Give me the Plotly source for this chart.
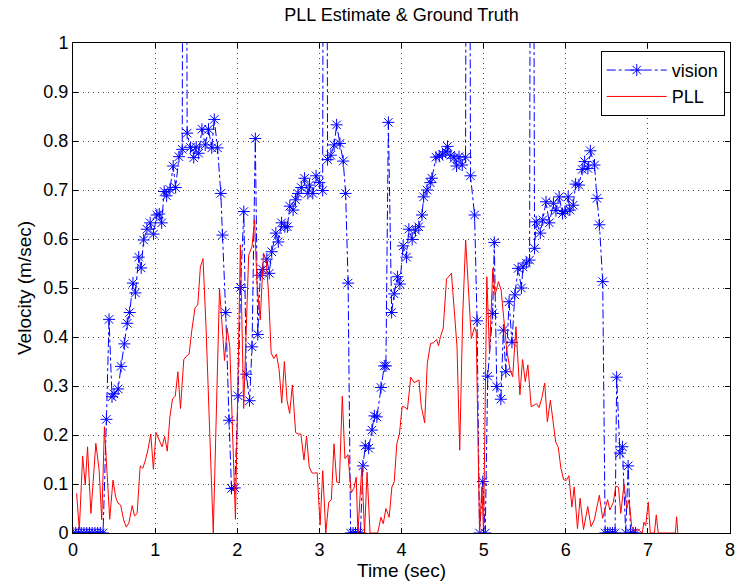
import plotly.graph_objects as go

# ---- data ----
vision_t = [0.0, 0.033, 0.067, 0.1, 0.133, 0.167, 0.2, 0.233, 0.267, 0.3, 0.333, 0.366,
            0.407, 0.439, 0.475, 0.50, 0.55, 0.585, 0.625, 0.66, 0.69, 0.73, 0.76, 0.80, 0.83,
            0.86, 0.90, 0.94, 0.98, 1.02, 1.05, 1.08, 1.11, 1.14, 1.18, 1.22, 1.25, 1.29, 1.33,
            1.355, 1.39, 1.43, 1.47, 1.50, 1.53, 1.57, 1.61, 1.65, 1.69, 1.72, 1.76, 1.80, 1.82,
            1.86, 1.90, 1.93, 1.97, 2.01, 2.04, 2.08, 2.11, 2.15, 2.18, 2.22, 2.25, 2.28, 2.31,
            2.36, 2.39, 2.42, 2.47, 2.50, 2.54, 2.58, 2.61, 2.64, 2.68, 2.71, 2.74, 2.78, 2.82,
            2.86, 2.88, 2.92, 2.96, 3.00, 3.04, 3.065, 3.10, 3.14, 3.18, 3.21, 3.25, 3.29, 3.32,
            3.35, 3.38, 3.41, 3.44, 3.47, 3.50, 3.53, 3.56, 3.60, 3.64, 3.67, 3.70, 3.75, 3.79,
            3.81, 3.84, 3.88, 3.91, 3.95, 3.98, 4.02, 4.06, 4.09, 4.13, 4.17, 4.21, 4.25, 4.27,
            4.31, 4.35, 4.37, 4.42, 4.46, 4.50, 4.54, 4.56, 4.60, 4.64, 4.67, 4.70, 4.74, 4.78,
            4.81, 4.84, 4.89, 4.92, 4.95, 4.99, 5.02, 5.05, 5.11, 5.13, 5.16, 5.21, 5.24, 5.27,
            5.31, 5.345, 5.38, 5.42, 5.46, 5.48, 5.52, 5.56, 5.585, 5.62, 5.64, 5.69, 5.72, 5.76,
            5.80, 5.85, 5.88, 5.92, 5.96, 5.99, 6.03, 6.05, 6.09, 6.12, 6.16, 6.20, 6.23, 6.27,
            6.30, 6.35, 6.38, 6.41, 6.45, 6.48, 6.51, 6.54, 6.57, 6.60, 6.62, 6.66, 6.69, 6.73,
            6.76, 6.79, 6.82, 6.85]
vision_v = [0, 0, 0, 0, 0, 0, 0, 0, 0, 0, 0, 0,
            0.232, 0.436, 0.278, 0.284, 0.294, 0.34, 0.386, 0.428, 0.45, 0.51, 0.49, 0.563, 0.541,
            0.598, 0.62, 0.633, 0.61, 0.649, 0.651, 0.633, 0.697, 0.688, 0.701, 0.749, 0.705, 0.768, 0.783,
            3.0, 0.816, 0.787, 0.766, 0.788, 0.775, 0.824, 0.792, 0.824, 0.786, 0.844, 0.786, 0.693, 0.608,
            0.45, 0.23, 0.091, 0.092, 0.28, 0.501, 0.656, 0.324, 0.27, 0.38, 0.805, 0.405, 0.526, 0.538,
            0.559, 0.53, 0.574, 0.612, 0.594, 0.633, 0.625, 0.625, 0.667, 0.659, 0.68, 0.693, 0.705, 0.724,
            0.693, 0.71, 0.693, 0.729, 0.715, 0.699, 3.0, 0.762, 0.771, 0.792, 0.833, 0.795, 0.759, 0.693,
            0.51, 0, 0, 0, 0, 0, 0.137, 0.178, 0.173, 0.21, 0.239, 0.237, 0.297, 0.341,
            0.341, 0.838, 0.45, 0.488, 0.523, 0.508, 0.586, 0.563, 0.62, 0.599, 0.618, 0.625, 0.649, 0.686,
            0.70, 0.715, 0.724, 0.767, 0.769, 0.773, 0.778, 0.789, 0.771, 0.765, 0.749, 0.768, 0.751, 0.767,
            3.0, 0.729, 0.649, 0.433, 0, 0.105, 0, 0.32, 0.448, 0.593, 0.299, 0.273, 0.414, 0.329,
            0.472, 0.389, 0.486, 0.54, 0.50, 0.543, 0.551, 0.557, 3.0, 0.581, 0.635, 0.612, 0.639, 0.676,
            0.633, 0.673, 0.658, 0.686, 0.652, 0.656, 0.686, 0.659, 0.669, 0.712, 0.71, 0.742, 0.758, 0.744,
            0.78, 0.751, 0.683, 0.629, 0.513, 0, 0, 0, 0, 0, 0.318, 0.163, 0.176, 0,
            0.137, 0, 0, 0]

pll_t = [0.044, 0.077, 0.117, 0.149, 0.177, 0.218, 0.278, 0.318, 0.35, 0.383, 0.415, 0.447,
         0.487, 0.52, 0.548, 0.58, 0.616, 0.649, 0.681, 0.721, 0.749, 0.781, 0.818, 0.85, 0.882,
         0.914, 0.947, 0.979, 1.011, 1.051, 1.084, 1.116, 1.148, 1.18, 1.212, 1.245, 1.277, 1.309,
         1.349, 1.382, 1.414, 1.446, 1.486, 1.519, 1.551, 1.583, 1.62, 1.708, 1.784, 1.845, 1.877,
         1.909, 1.978, 2.038, 2.078, 2.139, 2.179, 2.211, 2.24, 2.28, 2.32, 2.352, 2.381, 2.413,
         2.445, 2.477, 2.51, 2.542, 2.574, 2.606, 2.638, 2.671, 2.711, 2.743, 2.775, 2.812, 2.844,
         2.876, 2.908, 2.94, 2.973, 3.009, 3.041, 3.078, 3.114, 3.146, 3.178, 3.211, 3.243, 3.279,
         3.311, 3.348, 3.388, 3.42, 3.449, 3.469, 3.517, 3.55, 3.581, 3.617, 3.71, 3.75, 3.778,
         3.81, 3.85, 3.883, 3.911, 3.943, 3.975, 4.008, 4.04, 4.072, 4.113, 4.153, 4.213, 4.241,
         4.282, 4.314, 4.354, 4.387, 4.427, 4.451, 4.475, 4.508, 4.548, 4.608, 4.644, 4.676, 4.709,
         4.745, 4.781, 4.818, 4.85, 4.89, 4.91, 4.951, 4.979, 4.999, 5.039, 5.072, 5.112, 5.14,
         5.18, 5.213, 5.249, 5.281, 5.322, 5.354, 5.394, 5.442, 5.474, 5.507, 5.539, 5.579, 5.615,
         5.643, 5.675, 5.708, 5.744, 5.776, 5.813, 5.845, 5.877, 5.909, 5.941, 5.974, 6.006, 6.038,
         6.075, 6.103, 6.143, 6.175, 6.216, 6.268, 6.308, 6.348, 6.409, 6.449, 6.509, 6.537, 6.578,
         6.61, 6.642, 6.67, 6.71, 6.743, 6.771, 6.803, 6.844, 6.872, 6.932, 6.952, 6.973, 7.005,
         7.029, 7.08, 7.102, 7.126, 7.335, 7.35, 7.365]
pll_v = [0.081, 0.006, 0.157, 0.098, 0.176, 0.04, 0.183, 0.129, 0.027, 0.217, 0.122, 0.028,
         0.108, 0.073, 0.061, 0.057, 0.027, 0.012, 0.021, 0.056, 0.035, 0.04, 0.137, 0.132, 0.149,
         0.171, 0.202, 0.13, 0.205, 0.19, 0.176, 0.197, 0.167, 0.237, 0.274, 0.279, 0.329, 0.254,
         0.354, 0.361, 0.365, 0.413, 0.46, 0.465, 0.543, 0.56, 0.42, 0.0, 0.499, 0.352, 0.418,
         0.38, 0.028, 0.588, 0.254, 0.567, 0.584, 0.639, 0.51, 0.435, 0.571, 0.557, 0.489, 0.367,
         0.356, 0.365, 0.333, 0.265, 0.35, 0.271, 0.244, 0.302, 0.205, 0.202, 0.202, 0.149, 0.198,
         0.135, 0.123, 0.122, 0.123, 0.016, 0.127, 0.0, 0.063, 0.068, 0.182, 0.104, 0.102, 0.279,
         0.152, 0.16, 0.082, 0.091, 0.114, 0.0, 0.135, 0.0, 0.124, 0.0, 0.0, 0.032, 0.019,
         0.05, 0.032, 0.094, 0.104, 0.182, 0.202, 0.258, 0.257, 0.252, 0.318, 0.307, 0.312, 0.258,
         0.225, 0.346, 0.387, 0.388, 0.395, 0.382, 0.401, 0.418, 0.518, 0.53, 0.448, 0.38, 0.169,
         0.442, 0.598, 0.475, 0.397, 0.42, 0.41, 0.0, 0.095, 0.0, 0.523, 0.366, 0.54, 0.486,
         0.513, 0.496, 0.435, 0.374, 0.333, 0.319, 0.421, 0.282, 0.354, 0.309, 0.343, 0.258, 0.261,
         0.264, 0.256, 0.275, 0.306, 0.227, 0.271, 0.231, 0.186, 0.175, 0.132, 0.109, 0.107, 0.117,
         0.053, 0.094, 0.009, 0.071, 0.007, 0.054, 0.013, 0.027, 0.077, 0.03, 0.068, 0.047, 0.062,
         0.096, 0.093, 0.04, 0.1, 0.05, 0.068, 0.013, 0.003, 0.008, 0.0, 0.022, 0.015, 0.063,
         0.0, 0.0, 0.037, 0.0, 0.0, 0.033, 0.0]

x_ticks = [0, 1, 2, 3, 4, 5, 6, 7, 8]
x_tick_labels = ["0", "1", "2", "3", "4", "5", "6", "7", "8"]
y_ticks = [0, 0.1, 0.2, 0.3, 0.4, 0.5, 0.6, 0.7, 0.8, 0.9, 1]
y_tick_labels = ["0", "0.1", "0.2", "0.3", "0.4", "0.5", "0.6", "0.7", "0.8", "0.9", "1"]

FONT = "Liberation Sans, Arial, Helvetica, sans-serif"
FS = 18

fig = go.Figure()
fig.add_trace(go.Scatter(
    x=vision_t, y=vision_v, name="vision", mode="lines+markers",
    line=dict(color="rgb(0,0,255)", width=1, dash="dashdot"),
    marker=dict(symbol="asterisk-open", size=10, color="rgb(0,0,255)",
                line=dict(color="rgb(0,0,255)", width=1)),
    cliponaxis=True,
))
fig.add_trace(go.Scatter(
    x=pll_t, y=pll_v, name="PLL", mode="lines",
    line=dict(color="rgb(255,0,0)", width=1),
))

axis_common = dict(
    showline=True, linecolor="black", linewidth=1, mirror="ticks",
    ticks="inside", ticklen=5, tickcolor="black", tickwidth=1,
    showgrid=True, gridcolor="#444", gridwidth=1, griddash="1px,4px",
    zeroline=False, tickfont=dict(family=FONT, size=FS, color="black"),
)

fig.update_layout(
    width=744, height=587,
    paper_bgcolor="white", plot_bgcolor="white",
    margin=dict(l=73, r=9, t=43, b=54),
    font=dict(family=FONT, size=FS, color="black"),
    title=dict(text="PLL Estimate & Ground Truth", x=0.5, xanchor="center", xref="paper",
               y=(587 - 15) / 587, yanchor="middle", yref="container",
               font=dict(family=FONT, size=FS, color="black")),
    xaxis=dict(range=[0, 8], tickvals=x_ticks, ticktext=x_tick_labels,
               title=dict(text="Time (sec)", standoff=5,
                          font=dict(family=FONT, size=19, color="black")), **axis_common),
    yaxis=dict(range=[0, 1], tickvals=y_ticks, ticktext=y_tick_labels,
               title=dict(text="Velocity (m/sec)", standoff=6,
                          font=dict(family=FONT, size=19, color="black")), **axis_common),
    legend=dict(x=0.992, y=0.984, xanchor="right", yanchor="top",
                bgcolor="white", bordercolor="black", borderwidth=1,
                font=dict(family=FONT, size=FS, color="black"),
                tracegroupgap=0, itemwidth=60),
    showlegend=True,
)

fig.write_html("out.html")
